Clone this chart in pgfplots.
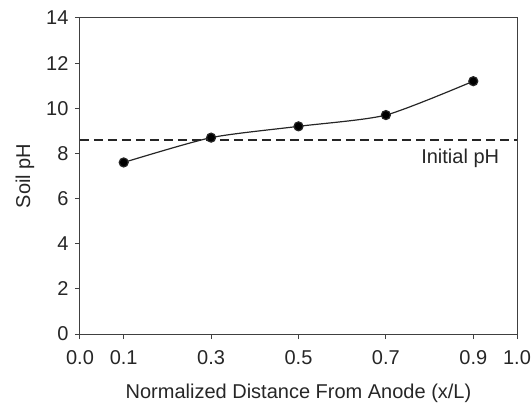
\documentclass[border=0pt]{standalone}
\usepackage{pgfplots}
\pgfplotsset{compat=1.18}
\usepackage{fontspec}
\setmainfont{Liberation Sans}
\begin{document}
\begin{tikzpicture}[x=1pt,y=1pt]
\begin{axis}[
  scale only axis,
  width=437pt, height=316pt,
  xmin=0, xmax=1, ymin=0, ymax=14,
  xtick={0,0.1,0.3,0.5,0.7,0.9,1.0},
  xticklabels={0.0,0.1,0.3,0.5,0.7,0.9,1.0},
  ytick={0,2,...,14},
  tick align=outside,
  tick pos=lower,
  major tick length=5pt,
  axis line style={draw=black!75, line width=1pt},
  every tick/.style={draw=black!75, line width=1pt},
  /pgf/number format/assume math mode=true,
  ticklabel style={font=\fontsize{20}{24}\selectfont, text=black!85},
  label style={font=\fontsize{20}{24}\selectfont, text=black!85},
  xticklabel style={yshift=-8pt},
  yticklabel style={xshift=-3pt},
  xlabel={Normalized Distance From Anode (x/L)},
  ylabel={Soil pH},
  xlabel style={yshift=-12pt},
  ylabel style={yshift=5pt},
  clip=false,
]
\addplot[black!85, line width=1.5pt, dash pattern=on 9pt off 5pt] coordinates {(0,8.6) (1,8.6)};
\addplot[black!85, line width=1.2pt, smooth, tension=0.4, mark=*, mark size=4.5pt, mark options={solid, fill=black}] coordinates {
(0.1,7.6) (0.3,8.7) (0.5,9.2) (0.7,9.7) (0.9,11.2)};
\node[anchor=center, font=\fontsize{20}{24}\selectfont, text=black!85] at (axis cs:0.87,7.8) {Initial pH};
\end{axis}
\pgfresetboundingbox
\path ([xshift=-80pt,yshift=-71pt]current axis.south west) rectangle ([xshift=14pt,yshift=18pt]current axis.north east);
\end{tikzpicture}
\end{document}
